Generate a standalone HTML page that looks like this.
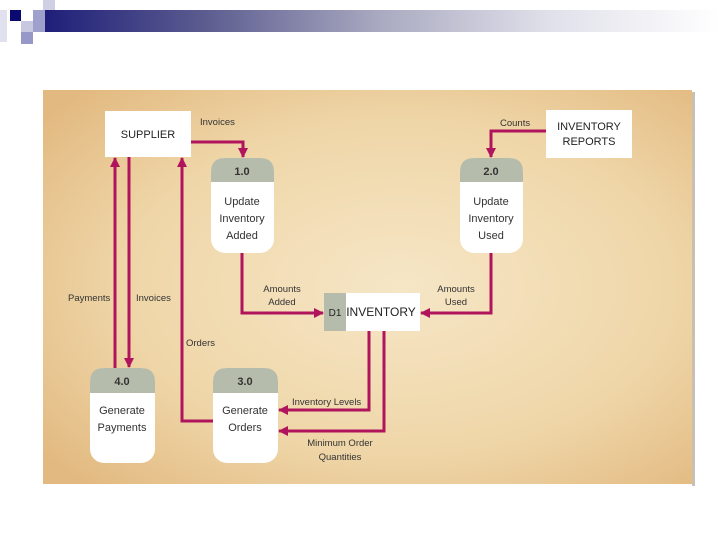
<!DOCTYPE html>
<html><head><style>
body{margin:0;width:720px;height:540px;background:#fff;position:relative;overflow:hidden;font-family:"Liberation Sans",sans-serif}
</style></head><body>
<div style="position:absolute;left:33px;top:10px;width:687px;height:22px;background:linear-gradient(90deg,#1a1a78 0%,#5c5c90 25%,#a8a8c0 50%,#e0e0ea 75%,#fff 100%)"></div>
<div style="position:absolute;left:0;top:10px;width:7px;height:32px;background:#e0e0ee"></div>
<div style="position:absolute;left:10px;top:10px;width:11px;height:11px;background:#0a0a70"></div>
<div style="position:absolute;left:43px;top:0;width:12px;height:10px;background:#d0d0e4"></div>
<div style="position:absolute;left:33px;top:10px;width:12px;height:12px;background:#a0a0cc"></div>
<div style="position:absolute;left:21px;top:21px;width:12px;height:11px;background:#c8c8e0"></div>
<div style="position:absolute;left:21px;top:32px;width:12px;height:12px;background:#9898c8"></div>
<div style="position:absolute;left:33px;top:22px;width:12px;height:10px;background:#a0a0cc"></div>
<svg width="720" height="540" style="position:absolute;left:0;top:0" font-family="Liberation Sans,sans-serif">
<defs>
<radialGradient id="bg" cx="0.55" cy="0.5" r="0.7">
<stop offset="0" stop-color="#f6e6c6"/><stop offset="0.6" stop-color="#efd6a8"/><stop offset="1" stop-color="#e2b980"/>
</radialGradient>
<marker id="a" markerWidth="10" markerHeight="10" refX="9" refY="5" orient="auto" markerUnits="userSpaceOnUse"><path d="M0,0 L10,5 L0,10 Z" fill="#b0145c"/></marker>
</defs>
<rect x="43" y="90" width="649" height="394" fill="url(#bg)"/>
<rect x="692" y="92" width="3" height="394" fill="#c8c0b0"/>
<g fill="none" stroke="#b0145c" stroke-width="3">
<path d="M191,142 H243 V157" marker-end="url(#a)"/>
<path d="M546,131 H491 V157" marker-end="url(#a)"/>
<path d="M242,253 V313 H323" marker-end="url(#a)"/>
<path d="M491,253 V313 H421" marker-end="url(#a)"/>
<path d="M115,368 V158" marker-end="url(#a)"/>
<path d="M129,157 V367" marker-end="url(#a)"/>
<path d="M213,421 H182 V158" marker-end="url(#a)"/>
<path d="M369,331 V410 H279" marker-end="url(#a)"/>
<path d="M384,331 V431 H279" marker-end="url(#a)"/>
</g>
<rect x="105" y="111" width="86" height="46" fill="#fff"/>
<text x="148" y="138" font-size="11" text-anchor="middle" fill="#222">SUPPLIER</text>
<rect x="546" y="110" width="86" height="48" fill="#fff"/>
<text x="589" y="130" font-size="11" text-anchor="middle" fill="#222">INVENTORY</text>
<text x="589" y="145" font-size="11" text-anchor="middle" fill="#222">REPORTS</text>
<rect x="324" y="293" width="96" height="38" fill="#fff"/>
<rect x="324" y="293" width="22" height="38" fill="#b6bcac"/>
<text x="335" y="316" font-size="10" text-anchor="middle" fill="#222">D1</text>
<text x="381" y="316" font-size="12" text-anchor="middle" fill="#222">INVENTORY</text>
<g font-size="11" text-anchor="middle" fill="#333">
<g>
<rect x="211" y="158" width="63" height="95" rx="14" fill="#fff"/>
<path d="M211,182 V172 Q211,158 225,158 H260 Q274,158 274,172 V182 Z" fill="#b6bcac"/>
<text x="242" y="175" font-weight="bold">1.0</text><text x="242" y="205">Update</text><text x="242" y="222">Inventory</text><text x="242" y="239">Added</text>
</g>
<g>
<rect x="460" y="158" width="63" height="95" rx="14" fill="#fff"/>
<path d="M460,182 V172 Q460,158 474,158 H509 Q523,158 523,172 V182 Z" fill="#b6bcac"/>
<text x="491" y="175" font-weight="bold">2.0</text><text x="491" y="205">Update</text><text x="491" y="222">Inventory</text><text x="491" y="239">Used</text>
</g>
<g>
<rect x="90" y="368" width="65" height="95" rx="14" fill="#fff"/>
<path d="M90,393 V382 Q90,368 104,368 H141 Q155,368 155,382 V393 Z" fill="#b6bcac"/>
<text x="122" y="385" font-weight="bold">4.0</text><text x="122" y="414">Generate</text><text x="122" y="431">Payments</text>
</g>
<g>
<rect x="213" y="368" width="65" height="95" rx="14" fill="#fff"/>
<path d="M213,393 V382 Q213,368 227,368 H264 Q278,368 278,382 V393 Z" fill="#b6bcac"/>
<text x="245" y="385" font-weight="bold">3.0</text><text x="245" y="414">Generate</text><text x="245" y="431">Orders</text>
</g>
</g>
<g font-size="9.5" fill="#333">
<text x="200" y="125">Invoices</text>
<text x="500" y="126">Counts</text>
<text x="282" y="292" text-anchor="middle">Amounts</text><text x="282" y="305" text-anchor="middle">Added</text>
<text x="456" y="292" text-anchor="middle">Amounts</text><text x="456" y="305" text-anchor="middle">Used</text>
<text x="68" y="301">Payments</text>
<text x="136" y="301">Invoices</text>
<text x="186" y="346">Orders</text>
<text x="292" y="405">Inventory Levels</text>
<text x="340" y="446" text-anchor="middle">Minimum Order</text>
<text x="340" y="460" text-anchor="middle">Quantities</text>
</g>
</svg>
</body></html>
